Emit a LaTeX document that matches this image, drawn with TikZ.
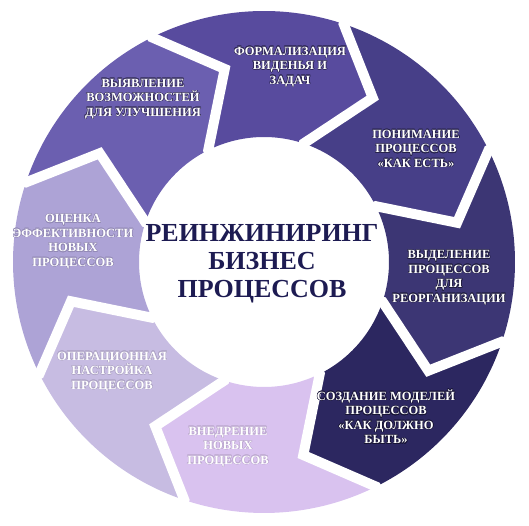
\documentclass[tikz,border=0pt]{standalone}
\usepackage{fontspec}
\usepackage{contour}
\setmainfont{Liberation Serif}
\contourlength{0.45pt}
\definecolor{formcol}{HTML}{584B9E}
\definecolor{poncol}{HTML}{473F88}
\definecolor{vydcol}{HTML}{3C3674}
\definecolor{sozdcol}{HTML}{2C2760}
\definecolor{vnedcol}{HTML}{D9C2EF}
\definecolor{opercol}{HTML}{C7BCE2}
\definecolor{otscol}{HTML}{ADA3D6}
\definecolor{vyyavcol}{HTML}{6B5FB0}
\definecolor{titlecol}{HTML}{1D1B52}
\colorlet{halocol}{black}
\newcommand{\hl}[1]{\contour{halocol}{#1}}
\tikzset{
  seglabel/.style={text=white, align=center,
    font=\bfseries\fontsize{12.5}{14.5}\selectfont,
    execute at begin node={\colorlet{halocol}{#1}}},
  titlelabel/.style={text=titlecol, align=center,
    font=\bfseries\fontsize{26}{28}\selectfont},
}
\begin{document}
\begin{tikzpicture}[x=1pt,y=1pt]
\useasboundingbox (0,0) rectangle (529,526);
\coordinate (c) at (264,264);
% ring of arrows
\foreach \b/\col in {116.5/formcol, 71.5/poncol, 26.5/vydcol, -18.5/sozdcol,
                     -63.5/vnedcol, -108.5/opercol, -153.5/otscol, 161.5/vyyavcol}{
  \pgfmathsetmacro\e{\b-45}
  \fill[\col, shift={(c)}] (\b:251) -- (\b-15:197) -- (\b:125)
    arc[start angle=\b, end angle=\e, radius=125]
    -- (\e-15:197) -- (\e:251)
    arc[start angle=\e, end angle=\b, radius=251] -- cycle;
}
% white gaps
\foreach \b in {116.5, 71.5, 26.5, -18.5, -63.5, -108.5, -153.5, 161.5}{
  \draw[white, line width=10, shift={(c)}]
    (\b:262) -- (\b:251) -- (\b-15:197) -- (\b:125) -- (\b:112);
}
% labels
\node[seglabel=formcol!55!black] (form) at (290,459)
  {\hl{ФОРМАЛИЗАЦИЯ}\\\hl{ВИДЕНЬЯ И}\\\hl{ЗАДАЧ}};
\node[seglabel=poncol!55!black] (pon) at (416,377)
  {\hl{ПОНИМАНИЕ}\\\hl{ПРОЦЕССОВ}\\\hl{«КАК ЕСТЬ»}};
\node[seglabel=vydcol!55!black] (vyd) at (449,248)
  {\hl{ВЫДЕЛЕНИЕ}\\\hl{ПРОЦЕССОВ}\\\hl{ДЛЯ}\\\hl{РЕОРГАНИЗАЦИИ}};
\node[seglabel=sozdcol!55!black] (sozd) at (386,109)
  {\hl{СОЗДАНИЕ МОДЕЛЕЙ}\\\hl{ПРОЦЕССОВ}\\\hl{«КАК ДОЛЖНО}\\\hl{БЫТЬ»}};
\node[seglabel=vnedcol!88!black] (vned) at (228,79)
  {\hl{ВНЕДРЕНИЕ}\\\hl{НОВЫХ}\\\hl{ПРОЦЕССОВ}};
\node[seglabel=opercol!88!black] (oper) at (112,154)
  {\hl{ОПЕРАЦИОННАЯ}\\\hl{НАСТРОЙКА}\\\hl{ПРОЦЕССОВ}};
\node[seglabel=otscol!85!black] (ots) at (73,284)
  {\hl{ОЦЕНКА}\\\hl{ЭФФЕКТИВНОСТИ}\\\hl{НОВЫХ}\\\hl{ПРОЦЕССОВ}};
\node[seglabel=vyyavcol!55!black] (vyyav) at (143,427)
  {\hl{ВЫЯВЛЕНИЕ}\\\hl{ВОЗМОЖНОСТЕЙ}\\\hl{ДЛЯ УЛУЧШЕНИЯ}};
\node[titlelabel] (title) at (262,262) {РЕИНЖИНИРИНГ\\БИЗНЕС\\ПРОЦЕССОВ};
\end{tikzpicture}
\end{document}
